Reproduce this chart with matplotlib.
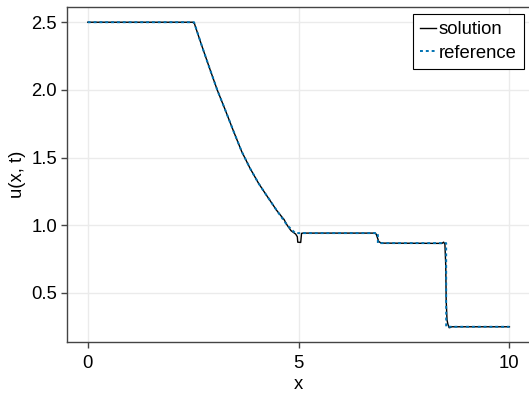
import numpy as np
import matplotlib
matplotlib.use("Agg")
import matplotlib.pyplot as plt

plt.rcParams['font.family'] = ['Liberation Sans', 'DejaVu Sans']

# numerical solution (includes the small wiggles)
x_sol = [0.0, 2.49, 2.53, 2.56, 2.70, 2.90, 3.07, 3.25, 3.45, 3.65, 3.85, 4.05, 4.22, 4.48,
         4.62, 4.65, 4.73, 4.82, 4.93, 4.97, 4.98, 5.05, 5.07, 5.10, 6.80, 6.84, 6.90,
         6.96, 8.40, 8.44, 8.47, 8.49, 8.50, 8.52, 8.54, 8.57, 8.60, 8.63, 10.0]
u_sol = [2.5, 2.5, 2.49, 2.46, 2.33, 2.15, 2.00, 1.86, 1.70, 1.545, 1.42, 1.31, 1.23, 1.11,
         1.055, 1.045, 1.0, 0.96, 0.935, 0.915, 0.875, 0.873, 0.94, 0.942, 0.942, 0.935,
         0.88, 0.868, 0.866, 0.875, 0.86, 0.70, 0.45, 0.30, 0.27, 0.243, 0.245, 0.25, 0.25]

# reference (exact) solution
x_ref = [0.0, 2.52, 2.70, 2.90, 3.07, 3.25, 3.45, 3.65, 3.85, 4.05, 4.22, 4.48, 4.73, 4.92,
         6.88, 6.88, 8.50, 8.50, 10.0]
u_ref = [2.5, 2.5, 2.33, 2.15, 2.00, 1.86, 1.70, 1.545, 1.42, 1.31, 1.23, 1.11, 1.00, 0.942,
         0.942, 0.868, 0.868, 0.25, 0.25]

fig = plt.figure(figsize=(5.29, 3.96), dpi=100)
ax = fig.add_axes([66.7 / 529, 1 - 342 / 396, (530.5 - 66.7) / 529, (342 - 7) / 396])

ax.plot(x_sol, u_sol, color='black', lw=1.0, label='solution')
ax.plot(x_ref, u_ref, color='#0072B2', lw=1.4, linestyle=(0, (1.5, 1.5)), label='reference')

ax.set_xlim(-0.5, 10.5)
ax.set_ylim(0.1375, 2.6125)
ax.set_xticks([0, 5, 10])
ax.set_yticks([0.5, 1.0, 1.5, 2.0, 2.5])
ax.set_yticklabels(['0.5', '1.0', '1.5', '2.0', '2.5'])
ax.grid(True, color='#ebebeb', lw=1.0)
ax.set_axisbelow(True)
for s in ax.spines.values():
    s.set_color('#444444')
    s.set_linewidth(1.0)
ax.tick_params(direction='out', length=4, width=1, color='#444444',
               labelsize=13.3, pad=3)
ax.tick_params(axis='x', pad=5)
ax.set_xlabel('x', fontsize=13.3, labelpad=3)
ax.set_ylabel('u(x, t)', fontsize=13.3, labelpad=4)

leg = ax.legend(loc='upper right', bbox_to_anchor=(524 / 529, 1 - 14 / 396),
                bbox_transform=fig.transFigure, borderaxespad=0, fontsize=13.3,
                fancybox=False, framealpha=1, edgecolor='black', handlelength=0.85,
                handletextpad=0.15, labelspacing=0.35, borderpad=0.4)
leg.get_frame().set_linewidth(0.8)

fig.savefig('out.png', dpi=100)
